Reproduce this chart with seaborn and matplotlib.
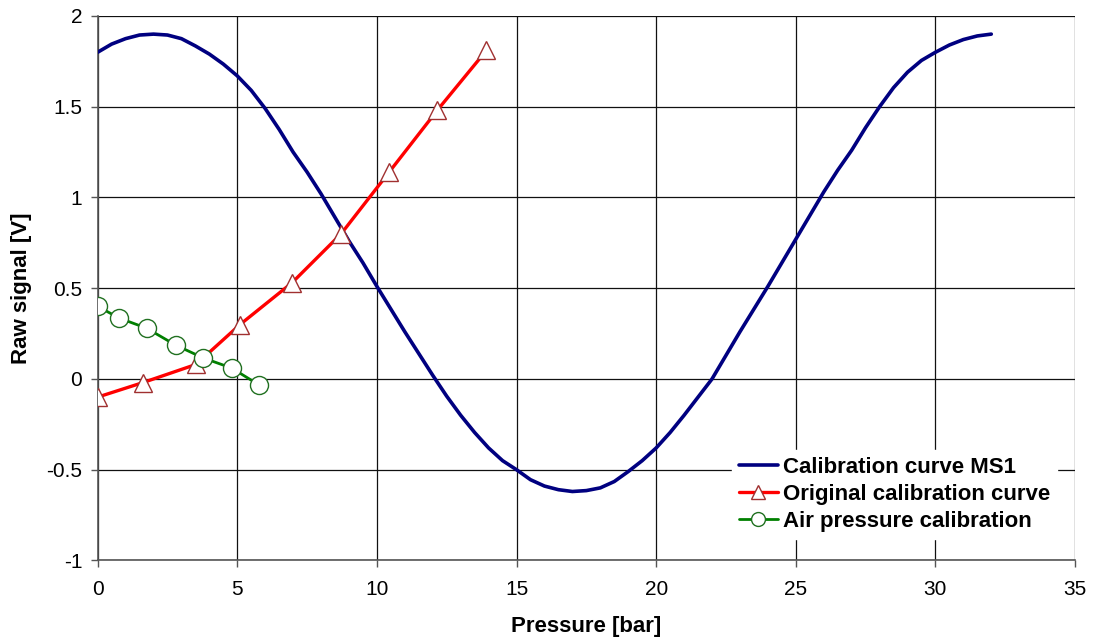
import matplotlib
matplotlib.use("Agg")
import matplotlib.pyplot as plt
import seaborn as sns
import pandas as pd

# ---- data ----
ms1_pressure = [0, 0.5, 1, 1.5, 2, 2.5, 3, 3.5, 4, 4.5, 5, 5.5, 6, 6.5, 7, 7.5,
                8, 8.5, 9, 9.5, 10, 10.5, 11, 11.5, 12, 12.5, 13, 13.5, 14, 14.5,
                15, 15.5, 16, 16.5, 17, 17.5, 18, 18.5, 19, 19.5, 20, 20.5, 21,
                21.5, 22, 22.5, 23, 23.5, 24, 24.5, 25, 25.5, 26, 26.5, 27, 27.5,
                28, 28.5, 29, 29.5, 30, 30.5, 31, 31.5, 32]
ms1_signal = [1.80, 1.845, 1.875, 1.895, 1.90, 1.895, 1.875, 1.835, 1.79, 1.735,
              1.67, 1.59, 1.49, 1.375, 1.25, 1.14, 1.02, 0.89, 0.76, 0.64, 0.51,
              0.385, 0.26, 0.14, 0.02, -0.095, -0.20, -0.295, -0.38, -0.45, -0.50,
              -0.555, -0.59, -0.61, -0.62, -0.615, -0.60, -0.565, -0.51, -0.45,
              -0.38, -0.295, -0.20, -0.10, 0.00, 0.13, 0.26, 0.385, 0.51, 0.64,
              0.77, 0.90, 1.03, 1.15, 1.26, 1.385, 1.50, 1.605, 1.69, 1.755,
              1.80, 1.84, 1.87, 1.89, 1.90]

orig_pressure = [0.0, 1.62, 3.52, 5.1, 6.96, 8.72, 10.44, 12.16, 13.92]
orig_signal = [-0.10, -0.02, 0.08, 0.30, 0.53, 0.80, 1.14, 1.48, 1.81]

air_pressure = [0.0, 0.78, 1.75, 2.8, 3.78, 4.8, 5.78]
air_signal = [0.40, 0.335, 0.28, 0.186, 0.116, 0.06, -0.033]

series_names = ["Calibration curve MS1", "Original calibration curve",
                "Air pressure calibration"]
x_ticks = [0, 5, 10, 15, 20, 25, 30, 35]
y_ticks = [-1, -0.5, 0, 0.5, 1, 1.5, 2]
y_tick_labels = ["-1", "-0.5", "0", "0.5", "1", "1.5", "2"]

df_ms1 = pd.DataFrame({"p": ms1_pressure, "s": ms1_signal})
df_orig = pd.DataFrame({"p": orig_pressure, "s": orig_signal})
df_air = pd.DataFrame({"p": air_pressure, "s": air_signal})

sns.set_theme(style="white")
plt.rcParams["font.family"] = ["Liberation Sans", "DejaVu Sans"]
plt.rcParams["text.color"] = "black"
plt.rcParams["axes.labelcolor"] = "black"

fig = plt.figure(figsize=(10.97, 6.44), dpi=100)
ax = fig.add_axes([0.089, 0.1297, 0.891, 0.8455])

sns.lineplot(data=df_ms1, x="p", y="s", ax=ax, color="#000080", linewidth=2.6,
             sort=False, estimator=None, label=series_names[0], zorder=3)
sns.lineplot(data=df_orig, x="p", y="s", ax=ax, color="#FF0000", linewidth=2.4,
             sort=False, estimator=None, marker="^", markersize=13,
             markerfacecolor="white", markeredgecolor="#A03030", markeredgewidth=1.0,
             label=series_names[1], zorder=4)
sns.lineplot(data=df_air, x="p", y="s", ax=ax, color="#008000", linewidth=2.0,
             sort=False, estimator=None, marker="o", markersize=13,
             markerfacecolor="white", markeredgecolor="#207020", markeredgewidth=1.0,
             label=series_names[2], zorder=5)

ax.set_xlim(0, 35)
ax.set_ylim(-1, 2)
ax.set_xticks(x_ticks)
ax.set_xticklabels([str(t) for t in x_ticks])
ax.set_yticks(y_ticks)
ax.set_yticklabels(y_tick_labels)
ax.grid(True, color="#111111", linewidth=0.9)
ax.set_axisbelow(True)
for side in ["left", "bottom"]:
    ax.spines[side].set_color("#555555")
    ax.spines[side].set_linewidth(1.2)
for side in ["top", "right"]:
    ax.spines[side].set_visible(False)
ax.tick_params(axis="both", which="both", direction="out", length=5, width=1,
               color="#555555", labelsize=15, labelcolor="black")
ax.tick_params(axis="x", pad=9)
ax.tick_params(axis="y", pad=6)
ax.tick_params(axis="both", bottom=True, left=True)

ax.set_xlabel("Pressure [bar]", fontsize=16, fontweight="bold", labelpad=12)
ax.set_ylabel("Raw signal [V]", fontsize=16, fontweight="bold", labelpad=10)

leg = ax.legend(loc="upper left", bbox_to_anchor=(0.638, 0.223), frameon=True,
                fancybox=False, framealpha=1.0, facecolor="white", edgecolor="white",
                prop={"size": 16, "weight": "bold"}, handlelength=1.75,
                handletextpad=0.25, labelspacing=0.28, borderpad=0.3)
for h in leg.legend_handles:
    h.set_markersize(10)
for t in leg.get_texts():
    t.set_color("black")
leg.set_zorder(10)

fig.savefig("out.png", dpi=100)
